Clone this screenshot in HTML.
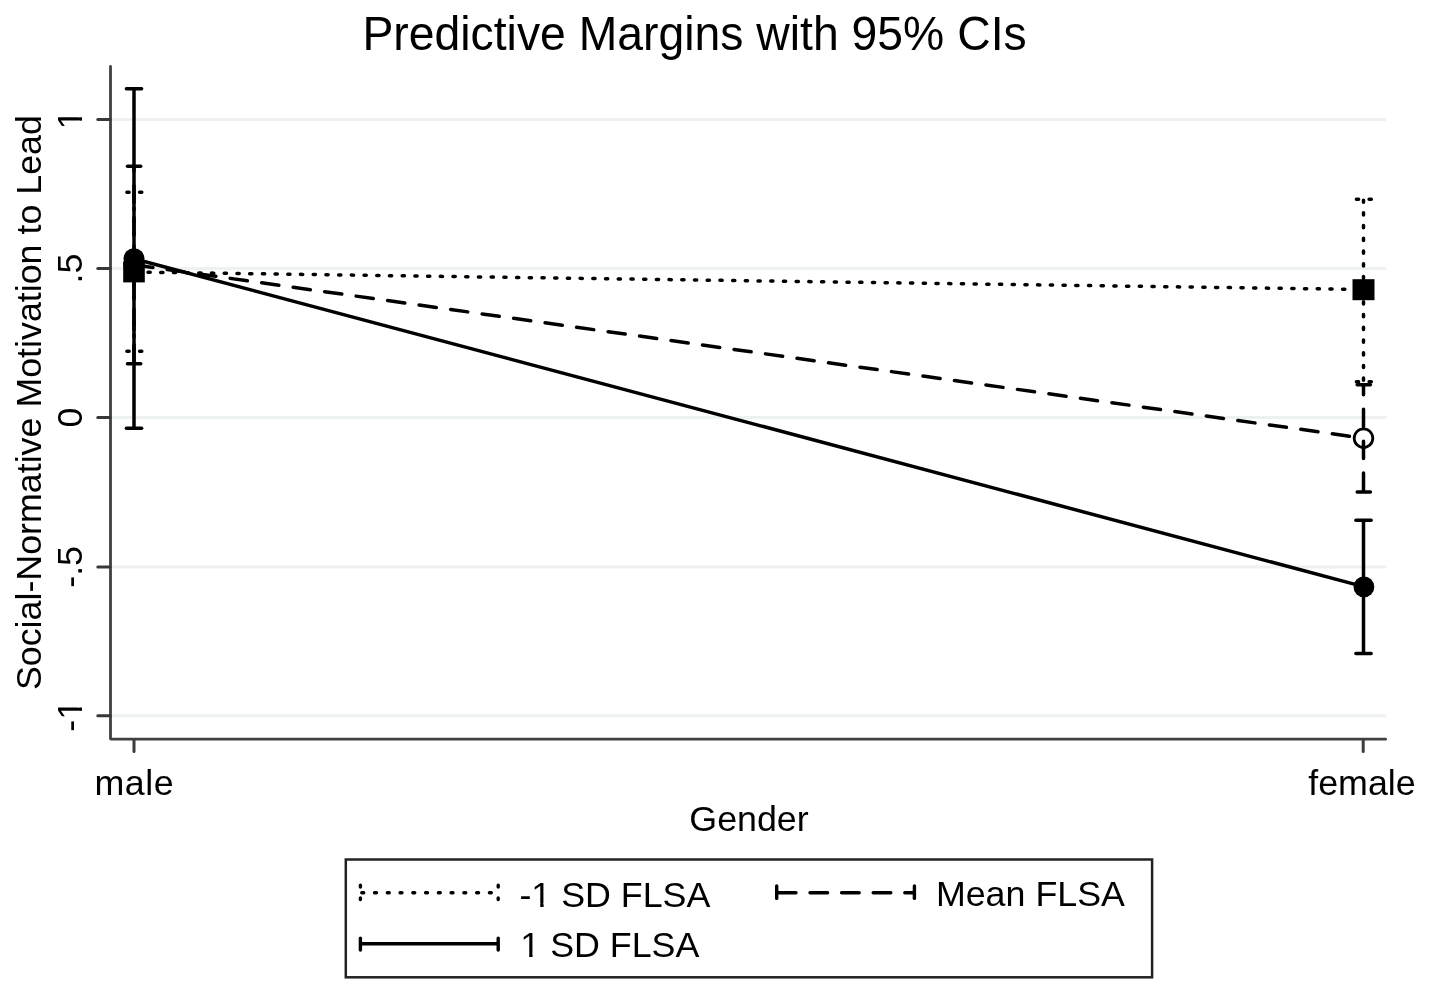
<!DOCTYPE html>
<html>
<head>
<meta charset="utf-8">
<style>
html,body{margin:0;padding:0;background:#fff;}
body{width:1429px;height:991px;overflow:hidden;}
svg{display:block;}
text{font-family:"Liberation Sans",Arial,sans-serif;fill:#000;}
</style>
</head>
<body>
<svg width="1429" height="991" viewBox="0 0 1429 991">
<rect x="0" y="0" width="1429" height="991" fill="#fff"/>

<!-- title -->
<text x="362.4" y="49.7" font-size="48" textLength="664.3" lengthAdjust="spacingAndGlyphs">Predictive Margins with 95% CIs</text>

<!-- gridlines -->
<g stroke="#edf1f0" stroke-width="3" fill="none">
<line x1="112" y1="119.6" x2="1386" y2="119.6"/>
<line x1="112" y1="268.5" x2="1386" y2="268.5"/>
<line x1="112" y1="417.6" x2="1386" y2="417.6"/>
<line x1="112" y1="566.9" x2="1386" y2="566.9"/>
<line x1="112" y1="715.8" x2="1386" y2="715.8"/>
</g>

<!-- axes -->
<g stroke="#404040" stroke-width="2.8" fill="none" stroke-linecap="round">
<path d="M110.5 66.5 V739.2 H1385.6" stroke-linejoin="bevel"/>
</g>
<g stroke="#383838" stroke-width="3" fill="none" stroke-linecap="round">
<line x1="97.8" y1="119.6" x2="110" y2="119.6"/>
<line x1="97.8" y1="268.5" x2="110" y2="268.5"/>
<line x1="97.8" y1="417.6" x2="110" y2="417.6"/>
<line x1="97.8" y1="566.9" x2="110" y2="566.9"/>
<line x1="97.8" y1="715.8" x2="110" y2="715.8"/>
</g>
<g stroke="#3c3c3c" stroke-width="3" fill="none" stroke-linecap="round">
<line x1="134" y1="740" x2="134" y2="751.4"/>
<line x1="1363.2" y1="740" x2="1363.2" y2="751.4"/>
</g>

<!-- y labels -->
<g font-size="35.8" text-anchor="middle">
<g transform="translate(81.7,119.6) rotate(-90)"><text>1</text><rect x="-7.93" y="-3.6" width="6.88" height="4.2" fill="#fff"/><rect x="2.31" y="-3.6" width="6.60" height="4.2" fill="#fff"/></g>
<text transform="translate(81.7,268.5) rotate(-90)">.5</text>
<text transform="translate(81.7,417.6) rotate(-90)">0</text>
<text transform="translate(81.7,566.9) rotate(-90)">-.5</text>
<g transform="translate(81.7,715.8) rotate(-90)"><text>-1</text><rect x="-1.97" y="-3.6" width="6.88" height="4.2" fill="#fff"/><rect x="8.27" y="-3.6" width="6.60" height="4.2" fill="#fff"/></g>
</g>
<text transform="translate(41.3,402.6) rotate(-90)" font-size="35.8" text-anchor="middle">Social-Normative Motivation to Lead</text>

<!-- x labels -->
<g font-size="35.8" text-anchor="middle">
<text x="134.1" y="795" textLength="79.3" lengthAdjust="spacing">male</text>
<text x="1362" y="795">female</text>
<text x="749" y="831.2">Gender</text>
</g>

<!-- series: -1 SD (dotted, square) -->
<g stroke="#000" stroke-width="3.5" fill="none" stroke-dasharray="2.2 10.51" stroke-dashoffset="-1.5" stroke-linecap="round">
<line x1="134.0" y1="351.2" x2="134.0" y2="192.2"/>
<line x1="125.4" y1="192.2" x2="143.2" y2="192.2"/>
<line x1="125.4" y1="351.2" x2="143.2" y2="351.2"/>
<line x1="1363.5" y1="381.8" x2="1363.5" y2="199.2"/>
<line x1="1354.9" y1="199.2" x2="1372.7" y2="199.2"/>
<line x1="1354.9" y1="381.8" x2="1372.7" y2="381.8"/>
<line x1="134.0" y1="272.0" x2="1363.5" y2="289.5" stroke-dashoffset="-1.3"/>
</g>
<!-- series: Mean (dashed, hollow circle) -->
<g stroke="#000" stroke-width="3.5" fill="none" stroke-dasharray="17.3 14.5" stroke-dashoffset="-1.75" stroke-linecap="round">
<line x1="134.0" y1="363.8" x2="134.0" y2="166.2"/>
<line x1="1363.5" y1="492.0" x2="1363.5" y2="384.7"/>
<line x1="134.0" y1="264.8" x2="1363.5" y2="438.2"/>
</g>
<g stroke="#000" stroke-width="3.5" fill="none" stroke-linecap="round">
<line x1="127.5" y1="166.2" x2="140.7" y2="166.2"/>
<line x1="127.5" y1="363.8" x2="140.7" y2="363.8"/>
<line x1="1357.2" y1="384.7" x2="1370.4" y2="384.7"/>
<line x1="1357.2" y1="492.0" x2="1370.4" y2="492.0"/>
</g>
<!-- series: 1 SD (solid, filled circle) -->
<g stroke="#000" stroke-width="3.5" fill="none" stroke-linecap="round">
<line x1="134.0" y1="428.3" x2="134.0" y2="88.7" stroke-linecap="butt"/>
<line x1="126.4" y1="88.7" x2="141.6" y2="88.7"/>
<line x1="126.4" y1="428.3" x2="141.6" y2="428.3"/>
<line x1="1363.5" y1="653.4" x2="1363.5" y2="520.3" stroke-linecap="butt"/>
<line x1="1355.9" y1="520.3" x2="1371.1" y2="520.3"/>
<line x1="1355.9" y1="653.4" x2="1371.1" y2="653.4"/>
<line x1="134.0" y1="258.7" x2="1363.5" y2="586.6"/>
</g>
<!-- markers -->
<rect x="123.2" y="261.4" width="21.6" height="21" fill="#000"/>
<rect x="1352.5" y="279.2" width="22" height="21" fill="#000"/>
<circle cx="134.0" cy="264.8" r="9.3" fill="none" stroke="#000" stroke-width="2.8"/>
<circle cx="1363.5" cy="438.2" r="9.3" fill="none" stroke="#000" stroke-width="2.8"/>
<circle cx="134.0" cy="258.7" r="10.5" fill="#000"/>
<circle cx="1363.9" cy="586.9" r="10.4" fill="#000"/>

<!-- legend -->
<rect x="345.8" y="859.5" width="806.3" height="117.8" fill="none" stroke="#222" stroke-width="2.5"/>
<g stroke="#000" stroke-width="3.4" fill="none" stroke-linecap="round">
<g stroke-dasharray="1.9 10.86" stroke-dashoffset="-1.7">
<line x1="360.1" y1="892.7" x2="498.2" y2="892.7"/>
<line x1="360.4" y1="883.5" x2="360.4" y2="899.5"/>
<line x1="498.2" y1="883.5" x2="498.2" y2="899.5"/>
</g>
<line x1="776.7" y1="892.7" x2="914.4" y2="892.7" stroke-dasharray="17.6 14" stroke-dashoffset="-1.7"/>
<line x1="776.7" y1="885.9" x2="776.7" y2="898.4"/>
<line x1="914.4" y1="885.9" x2="914.4" y2="898.4"/>
<line x1="360.4" y1="943.7" x2="498.2" y2="943.7" stroke-linecap="butt"/>
<line x1="360.4" y1="938.1" x2="360.4" y2="950"/>
<line x1="498.2" y1="938.1" x2="498.2" y2="950"/>
</g>
<g font-size="35.8">
<g transform="translate(519.4,906.6)"><text>-1 SD FLSA</text><rect x="13.95" y="-3.6" width="6.88" height="4.2" fill="#fff"/><rect x="24.19" y="-3.6" width="6.60" height="4.2" fill="#fff"/></g>
<text x="935.9" y="906.4">Mean FLSA</text>
<g transform="translate(520.3,957.2)"><text>1 SD FLSA</text><rect x="2.03" y="-3.6" width="6.88" height="4.2" fill="#fff"/><rect x="12.27" y="-3.6" width="6.60" height="4.2" fill="#fff"/></g>
</g>
</svg>
</body>
</html>
